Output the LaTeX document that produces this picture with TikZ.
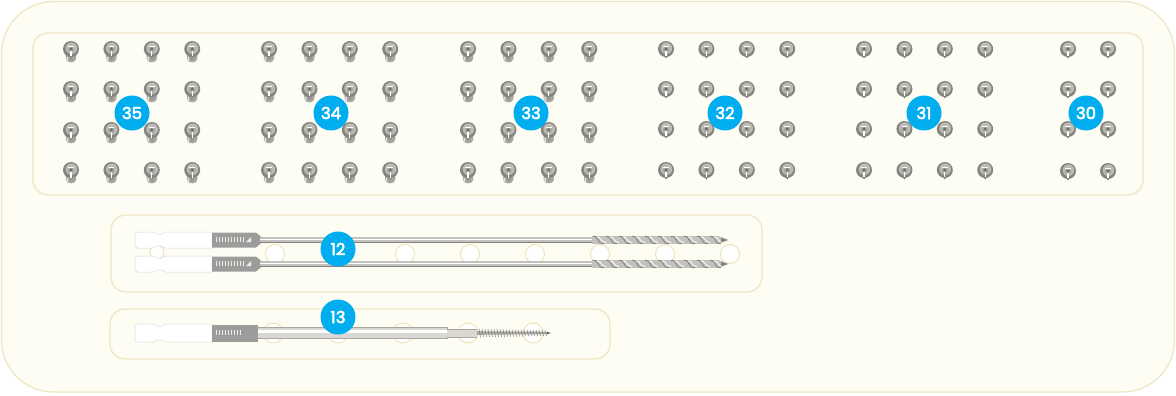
\documentclass[tikz,border=0pt]{standalone}
\usepackage{fontspec}
\setsansfont{Poppins}
\newfontfamily\badgefont{Poppins}[FakeBold=3]
\definecolor{paper}{HTML}{FEFDF4}
\definecolor{trayedge}{HTML}{EFE6C5}
\definecolor{holeedge}{HTML}{EEE1B3}
\definecolor{badgeblue}{HTML}{00AEEF}
\definecolor{steeldark}{HTML}{85847F}
\definecolor{steelmid}{HTML}{A8A7A2}
\definecolor{steellight}{HTML}{D9D8D3}
\definecolor{collar}{HTML}{9C9C9A}
\tikzset{
  tray/.style={fill=paper, draw=trayedge, line width=1.3pt},
  hole/.style={fill=white, draw=holeedge, line width=0.9pt},
  badge/.style={circle, fill=badgeblue, text=white, minimum size=35pt, inner sep=0pt,
    font=\badgefont\fontsize{16.5}{16.5}\selectfont},
  % socket-head screw with a short shank under the head
  longscrew/.pic={
    \fill[steelmid] (-5.5,2) -- (5.5,2) -- (5,10) .. controls (4.5,14.5) and (-4.5,14.5) .. (-5,10) -- cycle;
    \fill[steeldark!85] (-2.2,7) .. controls (-2.2,13) and (2.2,13) .. (2.2,7) -- cycle;
    \fill[steellight!70] (-4.5,8) -- (-3,8) -- (-3,12) -- (-4,11) -- cycle;
    \fill[steeldark] (0,0) circle (8);
    \fill[steelmid!60!steellight] (0.4,-0.8) circle (5.8);
    \fill[steelmid] (0,0.5) circle (3.2);
    \fill[steeldark!120] (0,0) circle (1.6);
    \draw[white, line width=1.2pt] (0,2) -- (0,7.5);
    \draw[white, line width=0.8pt] (-2.8,-3) -- (2.8,-3);
  },
  % round-head screw seen from above
  roundscrew/.pic={
    \fill[steeldark] (-3,5.5) -- (3,5.5) -- (0,9.5) -- cycle;
    \fill[steeldark] (0,0) circle (8);
    \fill[steelmid!60!steellight] (0.4,-0.8) circle (5.8);
    \fill[steelmid] (0,0.5) circle (3.2);
    \fill[steeldark!120] (0,0) circle (1.6);
    \draw[white, line width=1.1pt] (0,2) -- (0,7);
    \draw[white, line width=0.8pt] (-2.8,-3) -- (2.8,-3);
  },
  % hex shank and marked collar of a drill
  hexshank/.pic={
    \filldraw[fill=white, draw=gray!30, line width=0.5pt]
      (0,-6) -- (2,-8) -- (18,-8) -- (21,-6) -- (27,-6) -- (30,-8) -- (77,-8)
      -- (77,8) -- (30,8) -- (27,6) -- (21,6) -- (18,8) -- (2,8) -- (0,6) -- cycle;
    \fill[collar] (77,-7.5) -- (121,-7.5) -- (127,-2.5) -- (127,2.5) -- (121,7.5) -- (77,7.5) -- cycle;
    \foreach \t in {81,84,87,90,93,96,99,102,105,108}
      \draw[white!85!gray, line width=0.7pt] (\t,-3) -- (\t,2);
    \fill[white!85!gray] (111,2) -- (116,2) -- (116,-3) -- cycle;
  },
  drillbit/.pic={
    \pic {hexshank};
    \fill[steelmid!70] (125,-2.6) rectangle (457,2.6);
    \draw[white, line width=0.9pt] (125,-0.6) -- (457,-0.6);
    \draw[steeldark, line width=0.5pt] (125,2.4) -- (457,2.4);
    \fill[steelmid!70] (457,-3.8) -- (584,-3.8) -- (593,0) -- (584,3.8) -- (457,3.8) -- cycle;
    \foreach \k in {0,...,9} {
      \draw[steeldark, line width=0.9pt] ({458+13*\k},-3.8) .. controls ({465+13*\k},-3.8) and ({461+13*\k},3.8) .. ({469+13*\k},3.8);
      \draw[white, line width=0.8pt] ({462+13*\k},-3) .. controls ({467+13*\k},-3) and ({465+13*\k},2) .. ({471+13*\k},2.5);
    }
    \fill[steeldark] (586,-2.5) -- (593,0) -- (586,2.5) -- cycle;
  },
  screwdriver/.pic={
    \filldraw[fill=white, draw=gray!30, line width=0.5pt]
      (0,-7) -- (2,-9) -- (18,-9) -- (21,-7) -- (27,-7) -- (30,-9) -- (77,-9)
      -- (77,9) -- (30,9) -- (27,7) -- (21,7) -- (18,9) -- (2,9) -- (0,7) -- cycle;
    \fill[collar] (77,-8.5) rectangle (123,8.5);
    \foreach \t in {81,84,87,90,93,96,99,102,105}
      \draw[white!85!gray, line width=0.7pt] (\t,-3) -- (\t,2);
    \fill[steellight] (123,-5.8) rectangle (312,5.8);
    \fill[white] (123,-3.5) rectangle (312,-0.5);
    \draw[steelmid, line width=0.7pt] (123,-5.8) -- (312,-5.8) (123,5.8) -- (312,5.8) (312,-5.8) -- (312,5.8);
    \fill[steellight] (312,-3.8) rectangle (342,3.8);
    \draw[steelmid, line width=0.6pt] (312,-3.8) -- (342,-3.8) (312,3.8) -- (342,3.8);
    \fill[steelmid] (342,-1.8) -- (410,-1.2) -- (415,0) -- (410,1.2) -- (342,1.8) -- cycle;
    \foreach \k in {0,...,22}
      \draw[steeldark, line width=0.6pt] ({344+3*\k},{-4.2+0.06*\k}) -- ({345.5+3*\k},{4.2-0.06*\k});
    \fill[black!70] (412,-1) -- (416,0) -- (412,1) -- cycle;
  }
}
\begin{document}
\begin{tikzpicture}[x=1pt, y=-1pt]
  \useasboundingbox (0,0) rectangle (1176,396);
  \fill[white] (0,0) rectangle (1176,396);

  % outer tray
  \draw[tray, rounded corners=52pt] (1.5,1.5) rectangle (1174.5,392);

  % screw caddy
  \draw[tray, rounded corners=15pt] (33,33) rectangle (1143,195);

  % screws: long heads (35, 34, 33), round heads (32, 31, 30)
  \foreach \bx in {71,269,468}
    \foreach \i in {0,...,3}
      \foreach \ry in {49,89,130,170}
        \pic at ({\bx+40.4*\i},\ry) {longscrew};
  \foreach \bx in {666,864}
    \foreach \i in {0,...,3}
      \foreach \ry in {49,89,129,170}
        \pic at ({\bx+40.4*\i},\ry) {roundscrew};
  \foreach \i in {0,1}
    \foreach \ry in {49,89,129,171}
      \pic at ({1068+40*\i},\ry) {roundscrew};

  % drill tray
  \draw[tray, rounded corners=15pt] (111,215) rectangle (762,292);
  \node[hole, circle, minimum size=14pt, inner sep=0pt] (dhs) at (157,252) {};
  \foreach \k in {0,...,7}
    \node[hole, circle, minimum size=19pt, inner sep=0pt] (dh\k) at ({275+65*\k},254) {};
  \pic at (135,240) {drillbit};
  \pic at (135,264) {drillbit};

  % driver tray
  \draw[tray, rounded corners=15pt] (110,309) rectangle (610,359);
  \foreach \k in {0,...,4}
    \node[hole, circle, minimum size=20pt, inner sep=0pt] (vh\k) at ({273+65*\k},333) {};
  \pic at (135,333) {screwdriver};

  % item numbers
  \node[badge] (b35) at (132,113) {35};
  \node[badge] (b34) at (331,113) {34};
  \node[badge] (b33) at (531,113) {33};
  \node[badge] (b32) at (725,113) {32};
  \node[badge] (b31) at (924,113) {31};
  \node[badge] (b30) at (1086,113) {30};
  \node[badge] (b12) at (338,249) {12};
  \node[badge] (b13) at (338,317) {13};
\end{tikzpicture}
\end{document}
